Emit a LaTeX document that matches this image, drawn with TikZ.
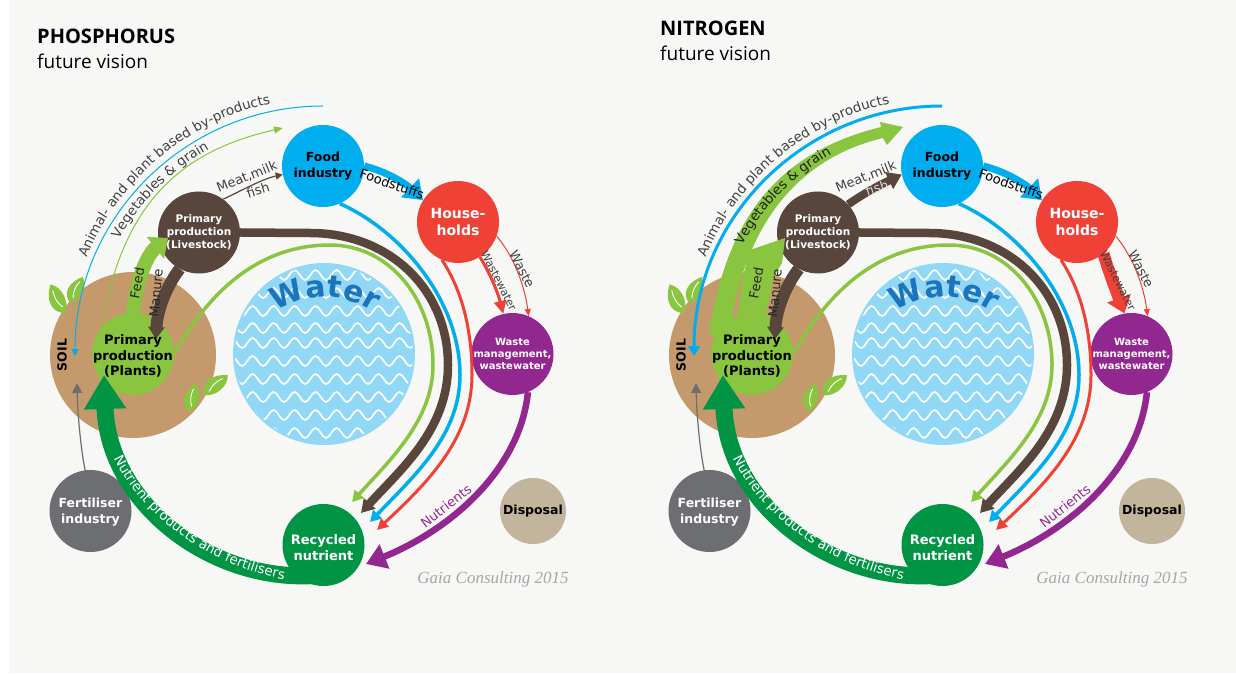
\documentclass[tikz,border=0pt]{standalone}
\usepackage{fontspec}
\setmainfont{DejaVu Sans}
\newfontfamily\titlefont{Open Sans}
\newfontfamily\creditfont{Liberation Serif}
\usetikzlibrary{arrows.meta,decorations.text,decorations.pathmorphing}

\definecolor{pagegray}{HTML}{F7F7F5}
\definecolor{leafgreen}{HTML}{8AC53F}
\definecolor{darkgreen}{HTML}{009444}
\definecolor{livebrown}{HTML}{58463C}
\definecolor{foodblue}{HTML}{00AEEF}
\definecolor{housered}{HTML}{EF4136}
\definecolor{wastepurple}{HTML}{92278F}
\definecolor{fertgray}{HTML}{6D6E71}
\definecolor{disposaltan}{HTML}{C2B59B}
\definecolor{soiltan}{HTML}{C49A6C}
\definecolor{waterblue}{HTML}{91D8F7}
\definecolor{watertext}{HTML}{1C75BC}
\definecolor{labelgray}{HTML}{414042}

\newcommand\fs[1]{\fontsize{#1}{#1}\selectfont\setlength\baselineskip{1.22em}}

% soil, leaves and the water disc
\newcommand\panelground{
	\node[round node, minimum size=166pt, fill=soiltan] (soil) at (133,318) {};
	\pic[rotate=117, scale=32] at (65,360) {leaf};
	\pic[rotate=64, scale=29] at (70,370) {leaf};
	\pic[rotate=80, scale=29] at (190,261) {leaf};
	\pic[rotate=40, scale=31] at (204,278) {leaf};
	\node[round node, minimum size=182pt, fill=waterblue] (waterbody) at (324,319) {};
	\begin{scope}
		\clip (324,319) circle (89);
		\foreach \y in {240,258,276,294,312,330,345,362,380,398}
			\draw[water wave] (225,\y) -- (425,\y);
	\end{scope}
}

% the coloured discs
\newcommand\panelcircles{
	\node[round node, fill=leafgreen] (plants) at (133,319) {};
	\node[round node, fill=livebrown] (livestock) at (199,440.5) {};
	\node[round node, fill=foodblue] (food) at (323,507) {};
	\node[round node, fill=housered] (households) at (458,451) {};
	\node[round node, fill=wastepurple] (wastemgmt) at (512.5,319) {};
	\node[round node, fill=darkgreen] (recycled) at (323.5,128) {};
	\node[round node, fill=fertgray] (fertiliser) at (90.5,162) {};
	\node[round node, minimum size=66pt, fill=disposaltan] (disposal) at (533,162) {};
}

% flows that look the same on both sides
\newcommand\panelflows{
	\coordinate (topstart) at (323,567);
	\coordinate (soiltip) at (75,317);
	\coordinate (greentip) at (352,171);
	\coordinate (browntip) at (361,160);
	\coordinate (bluetip) at (370,151);
	\coordinate (redtip) at (377,143);
	\coordinate (purpletip) at (366,109);
	\coordinate (nutrienttip) at (104,298);
	\coordinate (manuretip) at (156,334);
	\coordinate (fertiliserend) at (77,290);

	% big ring towards recycling
	\draw[flow={3.5pt}{11pt}{12pt}, leafgreen] (plants.east) .. controls (210,383) and (260,428) .. (330,428) .. controls (390,428) and (433,373) .. (433,308) .. controls (433,253) and (390,213) .. (greentip);
	\draw[flow={8.5pt}{13pt}{15pt}, livebrown] (livestock.east) .. controls (265,440.5) and (285,440) .. (310,440) .. controls (390,440) and (448,383) .. (448,308) .. controls (448,243) and (400,203) .. (browntip);
	\draw[flow={3.5pt}{11pt}{12pt}, foodblue] (food.-66) .. controls (400,443) and (460,373) .. (460,298) .. controls (460,238) and (415,198) .. (bluetip);
	\draw[flow={3pt}{11pt}{11pt}, housered] (households.-113) .. controls (462,383) and (472,343) .. (472,298) .. controls (472,233) and (425,188) .. (redtip);
	\draw[flow={6.5pt}{20pt}{25pt}, wastepurple] (wastemgmt.-68) .. controls (520,203) and (450,143) .. (purpletip);
	\draw[flow={17pt}{34pt}{40pt}, darkgreen] ([yshift=9pt]recycled.-106) .. controls (210,92) and (108,170) .. (nutrienttip);

	% short links
	\draw[flow={12pt}{12pt}{16pt}, livebrown] (livestock.-118) .. controls (165,385) and (157,360) .. (manuretip);
	\draw[flow={7pt}{18pt}{25pt}, foodblue] (food.east) .. controls (385,502) and (405,490) .. (households.148);
	\draw[flow={1pt}{7pt}{6pt}, housered] (households.-20) .. controls (515,415) and (525,385) .. (wastemgmt.67);
	\draw[flow={1.2pt}{10pt}{10pt}, fertgray] (fertiliser.88) .. controls (88,165) and (78,240) .. (fertiliserend);
}

% labels that look the same on both sides
\newcommand\panellabels{
	\node[disc text, text=black, font=\bfseries\fs{13}] (plantstext) at ([yshift=-2pt]plants) {Primary\\production\\(Plants)};
	\node[disc text, text=white, font=\bfseries\fs{10.5}] (livestocktext) at (livestock) {Primary\\production\\(Livestock)};
	\node[disc text, text=black] (foodtext) at (food) {Food\\industry};
	\node[disc text, text=white, font=\bfseries\fs{14}] (householdstext) at (households) {House-\\holds};
	\node[disc text, text=white, font=\bfseries\fs{10}] (wastetext) at (wastemgmt) {Waste\\management,\\wastewater};
	\node[disc text, text=white, font=\bfseries\fs{13}] (recycledtext) at ([yshift=-3pt]recycled) {Recycled\\nutrient};
	\node[disc text, text=white] (fertilisertext) at ([yshift=-1pt]fertiliser) {Fertiliser\\industry};
	\node[disc text, text=black] (disposaltext) at (disposal) {Disposal};
	\node[disc text, text=black, rotate=90] (soiltext) at (62,318) {SOIL};
	\path[decorate, decoration={text along path, text align=center, text={|\bfseries\fs{30}\color{watertext}|Water}}] (272,358) .. controls (305,382) and (345,382) .. (378,358);
	\path[decorate, decoration={text along path, text align=center, text={|\fs{13.5}\color{labelgray}|Animal- and plant based by-products}}] (76.7,385.3) .. controls (104.5,489.3) and (194.5,564.6) .. (301.7,574);
	\path[decorate, decoration={text along path, text align=center, text={|\fs{13.5}\color{white}|Nutrient products and fertilisers}}] (108,228) .. controls (133,163) and (205,105) .. (298,91);
	\node[flow text, rotate=80, text=black!85] (feedtext) at (137,390) {Feed};
	\node[flow text, rotate=85, text=black!85] (manuretext) at (156,380) {Manure};
	\node[flow text, rotate=-19, text=black] (foodstuffstext) at (392,489) {Foodstuffs};
	\node[flow text, rotate=-63, font=\fs{11}] (wastewatertext) at (499,392) {Wastewater};
	\node[flow text, rotate=-63] (wastelabel) at (522,404) {Waste};
	\node[flow text, rotate=38, text=wastepurple] (nutrientstext) at (446,167) {Nutrients};
	\node[flow text, rotate=22] (meattext) at (247,496) {Meat,milk};
	\node[credit text] (credittext) at (493,94) {Gaia Consulting 2015};
}

\begin{document}
\begin{tikzpicture}[x=1pt, y=1pt]

	\tikzset{
		round node/.style={circle, minimum size=82pt, inner sep=0pt, draw=none},
		disc text/.style={align=center, inner sep=0pt, font=\bfseries\fs{12.5}},
		flow text/.style={inner sep=0pt, text=labelgray, font=\fs{13}},
		credit text/.style={inner sep=0pt, text=black!35, font=\creditfont\itshape\fs{17}},
		title text/.style={anchor=base west, inner sep=0pt, font=\titlefont\bfseries\fs{20}},
		subtitle text/.style={anchor=base west, inner sep=0pt, font=\titlefont\fs{19}},
		flow/.style n args={3}{line width=#1, arrows={-Triangle[length=#2, width=#3]}},
		water wave/.style={draw=white, line width=1.7pt, decorate, decoration={snake, segment length=21pt, amplitude=5pt}},
		leaf/.pic={
			\fill[leafgreen] (0,0) .. controls (.2,.4) and (.65,.34) .. (1,0) .. controls (.8,-.28) and (.25,-.3) .. cycle;
			\draw[white, line width=.9pt] (.2,-.02) .. controls (.4,.08) and (.6,.08) .. (.8,.02);
		}
	}

	\useasboundingbox (0,0) rectangle (1236,673);
	\fill[pagegray] (9,0) rectangle (1236,673);

	% Phosphorus side
	\begin{scope}[name prefix=p-]
		\node[title text] (title) at (37,629) {PHOSPHORUS};
		\node[subtitle text] (subtitle) at (37,604) {future vision};
		\panelground
		\panelcircles
		\panelflows
		\draw[flow={1pt}{7pt}{7pt}, foodblue] (topstart) .. controls (186,567) and (75,456) .. (soiltip);
		\draw[flow={1pt}{9pt}{7pt}, leafgreen] (plants.140) .. controls (121,460) and (171,520) .. (283,545);
		\draw[flow={14pt}{16pt}{27pt}, leafgreen] (plants.north) .. controls (135,385) and (145,417) .. (168,435);
		\draw[flow={1.2pt}{7pt}{7pt}, livebrown] (livestock.54) .. controls (243,483) and (262,494) .. (food.192);
		\draw[flow={3pt}{13pt}{12pt}, housered] (households.-58) .. controls (490,400) and (498,380) .. (wastemgmt.103);
		\panellabels
		\path[decorate, decoration={text along path, text align=center, text={|\fs{13.5}\color{labelgray}|Vegetables {\&} grain}}] (97,380) .. controls (118.7,461) and (182,524) .. (263,546);
		\node[flow text, rotate=17] (fishtext) at (258,483) {fish};
	\end{scope}

	% Nitrogen side
	\begin{scope}[xshift=619pt, name prefix=n-]
		\node[title text] (title) at (41,637) {NITROGEN};
		\node[subtitle text] (subtitle) at (41,612) {future vision};
		\panelground
		% wide vegetable band goes under the plants disc
		\fill[leafgreen] (90,338) .. controls (108,462) and (165,522) .. (262,546) -- (261,551) -- (284,546) -- (268,528) -- (264,535) .. controls (180,515) and (125,450) .. (110,338) -- cycle;
		\panelcircles
		\panelflows
		\draw[flow={3pt}{10pt}{12pt}, foodblue] (topstart) .. controls (186,567) and (75,456) .. (soiltip);
		\fill[leafgreen] (plants.110) -- (123,393) -- (129,416) -- (131,423) -- (166,435) -- (163,410) -- (154,395) -- (plants.70) -- cycle;
		\draw[flow={8pt}{14pt}{18pt}, livebrown] (livestock.43) .. controls (250,483) and (265,490) .. (food.192);
		\draw[flow={12pt}{16pt}{24pt}, housered] (households.-50) .. controls (490,400) and (498,380) .. (wastemgmt.100);
		\panellabels
		\path[decorate, decoration={text along path, text align=center, text={|\fs{13.5}\color{labelgray!50!black}|Vegetables {\&} grain}}] (103,375) .. controls (123,455) and (183,518) .. (265,540);
		\node[flow text, rotate=17, text=black!15] (fishtext) at (258,485) {fish};
	\end{scope}
\end{tikzpicture}
\end{document}
